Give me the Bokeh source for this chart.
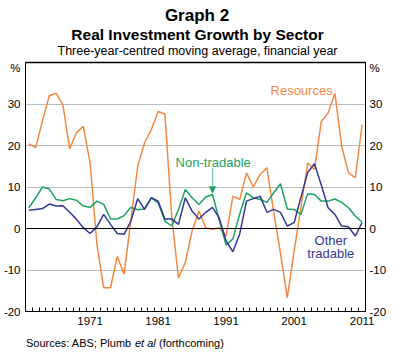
from bokeh.plotting import figure
from bokeh.layouts import column
from bokeh.models import Range1d, LinearAxis, FixedTicker, Span, Label, Arrow, NormalHead
from bokeh.embed import file_html
from bokeh.resources import INLINE

# ---------------- data ----------------
years = list(range(1962, 2012))
resources = [20.4, 19.5, 26.0, 32.0, 32.6, 29.8, 19.2, 23.1, 24.6, 15.8,
             -3.8, -14.3, -14.3, -6.7, -11.0, 2.0, 15.0, 20.6, 23.8, 28.2,
             27.6, 3.0, -11.9, -8.2, -0.6, 4.2, 0.2, -0.2, 0.2, -1.8,
             7.8, 7.0, 13.4, 10.0, 13.0, 14.6, 4.0, -6.0, -16.7, -5.5,
             5.0, 15.8, 14.2, 25.8, 27.8, 32.6, 19.8, 13.4, 12.2, 25.0]
non_tradable = [5.0, 7.4, 10.0, 9.5, 7.0, 6.7, 7.2, 6.8, 5.4, 5.1,
                6.6, 5.8, 2.3, 2.3, 3.1, 5.1, 4.5, 4.7, 7.4, 6.2,
                1.8, 0.6, 4.6, 9.4, 7.4, 5.8, 7.6, 8.2, 2.0, -4.0,
                -2.5, 3.5, 8.6, 7.4, 7.0, 6.3, 8.6, 10.8, 4.7, 4.6,
                3.4, 8.4, 8.2, 6.6, 6.6, 7.1, 6.3, 5.0, 3.0, 1.5]
other_tradable = [4.4, 4.6, 4.8, 5.9, 5.4, 5.5, 3.9, 2.2, 0.2, -1.2,
                  0.4, 3.4, 1.0, -1.2, -1.4, 1.8, 7.2, 4.6, 7.4, 6.6,
                  2.3, 2.3, 1.0, 7.4, 4.2, 2.3, 3.9, 5.1, 2.5, -3.0,
                  -5.6, -1.3, 6.6, 7.2, 7.8, 3.9, 4.6, 3.9, 0.6, 1.4,
                  7.5, 13.5, 15.6, 10.5, 5.0, 3.4, 0.6, 0.4, -1.8, 1.4]
y_ticks = [-20, -10, 0, 10, 20, 30, 38.7]
y_tick_labels = ["-20", "-10", "0", "10", "20", "30", "%"]
grid_ticks = [-10, 10, 20, 30]
x_label_years = [1971, 1981, 1991, 2001, 2011]

ORANGE = "#F58840"
GREEN = "#1BA35F"
NAVY = "#333896"
FONT = "Liberation Sans"
W = 394
FRAME_L, FRAME_R = 25, 365   # frames in a column are aligned to the main chart's frame

def text_panel(height):
    f = figure(width=W, height=height, output_backend="svg", toolbar_location=None,
               x_range=Range1d(FRAME_L, FRAME_R), y_range=Range1d(height, 0),
               x_axis_location=None, y_axis_location=None, title=None,
               min_border=0, min_border_left=0, min_border_right=0,
               min_border_top=0, min_border_bottom=0)
    f.grid.visible = False
    f.outline_line_color = None
    f.background_fill_color = "white"
    f.border_fill_color = "white"
    return f

def add_text(f, x, y, text, size, color="black", align="center", style="normal"):
    f.add_layout(Label(x=x, y=y, text=text, text_font=FONT, text_font_size=size,
                       text_color=color, text_align=align, text_baseline="alphabetic",
                       text_font_style=style))

# ---------------- header ----------------
HEAD_H = 60
head = text_panel(HEAD_H)
add_text(head, 196.5, 15, "Graph 2", "17px", style="bold")
add_text(head, 197, 33.8, "Real Investment Growth by Sector", "15.5px", style="bold")
add_text(head, 197, 50.5, "Three-year-centred moving average, financial year", "12.5px")

# ---------------- main chart ----------------
p = figure(width=W, height=276, output_backend="svg", toolbar_location=None,
           x_range=Range1d(1961.5, 2011.5), y_range=Range1d(-20, 40),
           min_border_left=FRAME_L, min_border_right=W - FRAME_R, min_border_top=2,
           min_border_bottom=25, title=None)
p.outline_line_color = None
p.background_fill_color = "white"
p.border_fill_color = "white"

p.xgrid.visible = False
p.ygrid.ticker = FixedTicker(ticks=grid_ticks)
p.ygrid.grid_line_color = "#BDBDBD"
p.ygrid.grid_line_width = 1
p.add_layout(Span(location=0, dimension="width", line_color="black", line_width=1.2))

overrides = {t: l for t, l in zip(y_ticks, y_tick_labels)}
def style_y(ax, standoff):
    ax.ticker = FixedTicker(ticks=y_ticks)
    ax.major_label_overrides = overrides
    ax.axis_line_color = "black"
    ax.major_tick_line_color = None
    ax.minor_tick_line_color = None
    ax.major_tick_out = 0
    ax.major_label_standoff = standoff
    ax.major_label_text_font = FONT
    ax.major_label_text_font_size = "11.5px"
    ax.major_label_text_color = "black"

style_y(p.left[0], 5)
right = LinearAxis()
style_y(right, 4)
p.add_layout(right, "right")

xa = p.below[0]
xa.ticker = FixedTicker(ticks=x_label_years,
                        minor_ticks=[y - 0.5 for y in years] + [years[-1] + 0.5])
xa.axis_line_color = "black"
xa.major_tick_line_color = None
xa.major_tick_out = 0
xa.major_tick_in = 0
xa.minor_tick_line_color = "black"
xa.minor_tick_in = 4
xa.minor_tick_out = 0
xa.major_label_standoff = 5
xa.major_label_text_font = FONT
xa.major_label_text_font_size = "11.5px"
xa.major_label_text_color = "black"

top = LinearAxis(ticker=FixedTicker(ticks=[]))
top.axis_line_color = "black"
top.axis_line_width = 1.3
top.major_tick_line_color = None
top.minor_tick_line_color = None
top.major_tick_out = 0
top.minor_tick_out = 0
top.major_label_standoff = 0
top.major_label_text_font_size = "0px"
p.add_layout(top, "above")

p.line(years, resources, line_color=ORANGE, line_width=1.5)
p.line(years, non_tradable, line_color=GREEN, line_width=1.5)
p.line(years, other_tradable, line_color=NAVY, line_width=1.5)

def lab(x, y, text, size, color):
    p.add_layout(Label(x=x, y=y, text=text, text_font=FONT, text_font_size=size,
                       text_color=color, text_align="center", text_baseline="alphabetic"))

lab(2002.1, 33.3, "Resources", "13px", ORANGE)
lab(1989.1, 15.8, "Non-tradable", "13px", GREEN)
lab(2006.4, -3.0, "Other", "13px", NAVY)
lab(2006.4, -6.1, "tradable", "13px", NAVY)

p.add_layout(Arrow(x_start=1989, y_start=14.6, x_end=1989, y_end=8.6,
                   line_color="#86CFA4", line_width=1.5,
                   end=NormalHead(size=6, fill_color=GREEN, line_color=GREEN)))

# ---------------- footer ----------------
FOOT_H = 18
foot = text_panel(FOOT_H)
add_text(foot, 25.5, 6.5, "Sources: ABS; Plumb", "11px", align="left")
add_text(foot, 134.5, 6.5, "et al", "11px", align="left", style="italic")
add_text(foot, 158.5, 6.5, "(forthcoming)", "11px", align="left")

layout = column(head, p, foot, spacing=0)
open("out.html", "w").write(file_html(layout, INLINE))
